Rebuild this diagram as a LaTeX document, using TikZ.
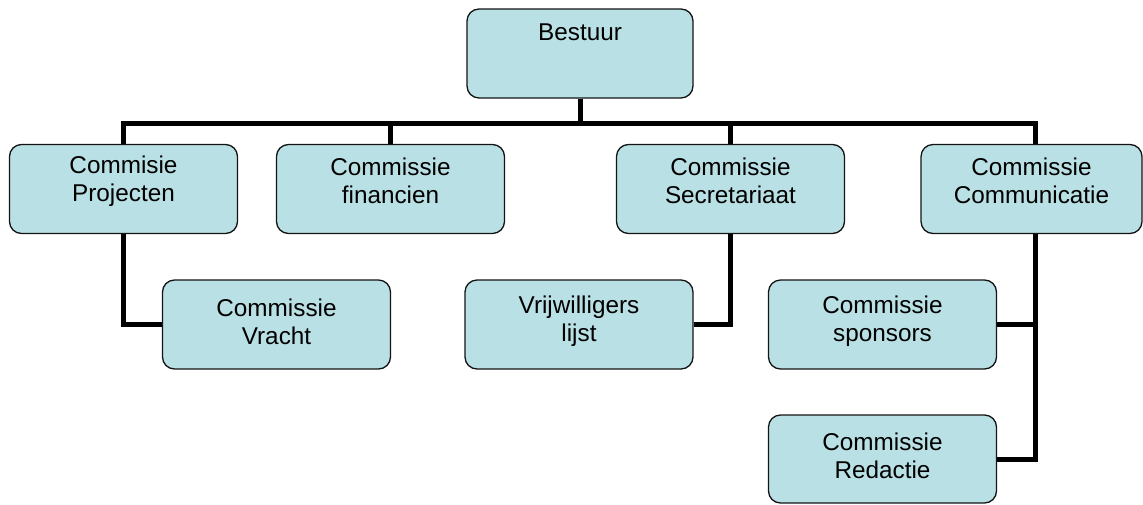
\documentclass[tikz,border=0pt]{standalone}
\usepackage{fontspec}
\setmainfont{Liberation Sans}
\usetikzlibrary{backgrounds}
\definecolor{boxfill}{RGB}{185,224,228}
\definecolor{boxline}{RGB}{20,20,20}
\tikzset{
  box/.style={draw=boxline, line width=1.3pt, fill=boxfill, rounded corners=12pt,
    minimum width=228pt, minimum height=89pt, inner sep=0pt},
  txt/.style={inner sep=0pt, align=center, font=\fontsize{24.3}{28}\selectfont},
  rowone/.style={label={[txt, yshift=8pt]center:{#1}}},
  rowtwo/.style={label={[txt, yshift=3pt]center:{#1}}},
  conn/.style={line width=5pt, draw=black}
}
\begin{document}
\begin{tikzpicture}[x=1pt,y=-1pt]
\useasboundingbox (0,0) rectangle (1143,504);
\node[box, minimum width=226pt] (b) at (580,53.5) {};
\node[txt, anchor=base] (bt) at (580,40.5) {Bestuur};
\node[box, rowone={Commisie\\Projecten}] (p) at (123.5,189) {};
\node[box, rowone={Commissie\\financien}] (f) at (390.5,189) {};
\node[box, rowone={Commissie\\Secretariaat}] (s) at (730.5,189) {};
\node[box, minimum width=221pt, rowone={Commissie\\Communicatie}] (c) at (1031.5,189) {};
\node[box, rowtwo={Commissie\\Vracht}] (v) at (276.5,324.5) {};
\node[box, rowtwo={Vrijwilligers\\lijst}] (w) at (579,324.5) {};
\node[box, rowtwo={Commissie\\sponsors}] (sp) at (882.5,324.5) {};
\node[box, minimum height=88pt, rowtwo={Commissie\\Redactie}] (r) at (882.5,459) {};
\coordinate (cs) at ([xshift=3.5pt]c.south);
\coordinate (cn) at ([xshift=3.5pt]c.north);
\begin{scope}[on background layer]
\draw[conn] (b.south) -- ++(0,25) -| (p.north);
\draw[conn] (b.south) -- ++(0,25) -| (f.north);
\draw[conn] (b.south) -- ++(0,25) -| (s.north);
\draw[conn] (b.south) -- ++(0,25) -| (cn);
\draw[conn] (p.south) |- (v.west);
\draw[conn] (s.south) |- (w.east);
\draw[conn] (cs) |- (sp.east);
\draw[conn] (cs) |- (r.east);
\end{scope}
\end{tikzpicture}
\end{document}
